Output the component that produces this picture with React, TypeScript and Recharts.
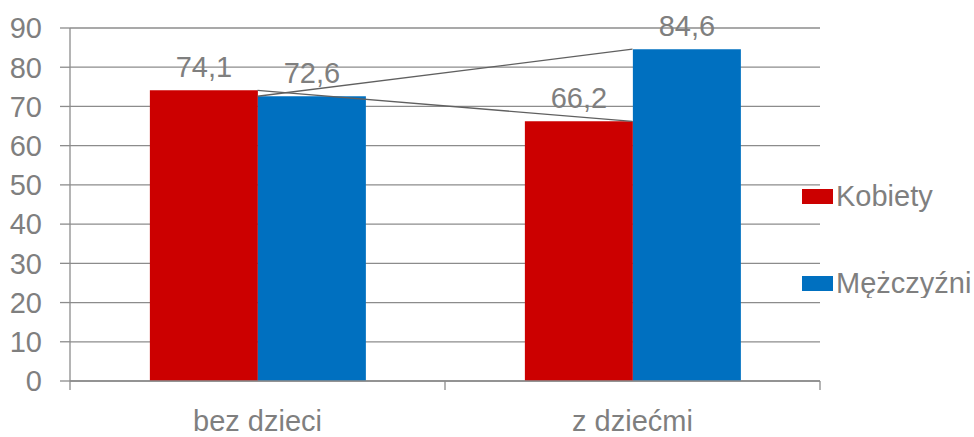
import {
  ComposedChart,
  Bar,
  Line,
  XAxis,
  YAxis,
  CartesianGrid,
  Legend,
  LabelList,
} from "recharts";

const categories = ["bez dzieci", "z dziećmi"];
const kobiety = [74.1, 66.2];
const mezczyzni = [72.6, 84.6];
const yTicks = [0, 10, 20, 30, 40, 50, 60, 70, 80, 90];

const seriesInfo = [
  { key: "Kobiety", label: "Kobiety", color: "#CC0000" },
  { key: "Mezczyzni", label: "Mężczyźni", color: "#0070C0" },
];

const data = categories.map((name, i) => ({
  name,
  Kobiety: kobiety[i],
  Mezczyzni: mezczyzni[i],
}));

const TEXT = "#7f7f7f";
const GRID = "#8c8c8c";
const FONT = 29;

const fmt = (v: number) => v.toFixed(1).replace(".", ",");

function CategoryTick(props: any) {
  const { x, y, payload, index } = props;
  const half = payload.offset || 0;
  return (
    <g>
      <line x1={x - half} x2={x - half} y1={y} y2={y + 9} stroke={GRID} strokeWidth={1.3} />
      {index === categories.length - 1 && (
        <line x1={x + half} x2={x + half} y1={y} y2={y + 9} stroke={GRID} strokeWidth={1.3} />
      )}
      <text x={x} y={y + 50} textAnchor="middle" fill={TEXT} fontSize={FONT}>
        {payload.value}
      </text>
    </g>
  );
}

function LegendBox() {
  return (
    <div>
      {seriesInfo.map((s, i) => (
        <div
          key={s.key}
          style={{
            display: "flex",
            alignItems: "center",
            height: 30,
            marginBottom: i === 0 ? 57 : 0,
            whiteSpace: "nowrap",
          }}
        >
          <div style={{ width: 31, height: 15, background: s.color, marginRight: 3, flexShrink: 0 }} />
          <span style={{ color: TEXT, fontSize: FONT, lineHeight: "30px" }}>{s.label}</span>
        </div>
      ))}
    </div>
  );
}

export default function App() {
  return (
    <div
      style={{
        position: "absolute",
        left: 0,
        top: 0,
        width: 974,
        height: 437,
        overflow: "hidden",
        background: "#fff",
        fontFamily: "'Liberation Sans', Arial, sans-serif",
      }}
    >
      <ComposedChart
        width={974}
        height={437}
        data={data}
        margin={{ top: 28, right: 154, left: 0, bottom: 0 }}
        barCategoryGap="21.3%"
        barGap={0}
      >
        <CartesianGrid vertical={false} stroke={GRID} strokeWidth={1.3} />
        <XAxis
          dataKey="name"
          height={56}
          axisLine={{ stroke: GRID, strokeWidth: 1.3 }}
          tickLine={false}
          tickSize={0}
          tickMargin={0}
          tick={<CategoryTick />}
          interval={0}
        />
        <YAxis
          width={70}
          domain={[0, 90]}
          ticks={yTicks}
          interval={0}
          axisLine={{ stroke: GRID, strokeWidth: 1.3 }}
          tickLine={{ stroke: GRID, strokeWidth: 1.3 }}
          tickSize={10}
          tickMargin={18}
          tick={{ fill: TEXT, fontSize: FONT }}
        />
        <Legend
          layout="vertical"
          align="center"
          verticalAlign="middle"
          content={<LegendBox />}
          wrapperStyle={{ left: 802, top: 181, width: 172, overflow: "hidden" }}
        />
        {seriesInfo.map((s) => (
          <Bar key={s.key} dataKey={s.key} name={s.label} fill={s.color} isAnimationActive={false}>
            <LabelList
              dataKey={s.key}
              position="top"
              offset={13}
              fill={TEXT}
              fontSize={FONT}
              formatter={(v: any) => fmt(Number(v))}
            />
          </Bar>
        ))}
        {seriesInfo.map((s) => (
          <Line
            key={"line-" + s.key}
            dataKey={s.key}
            stroke="#606060"
            strokeWidth={1.3}
            dot={false}
            activeDot={false}
            legendType="none"
            isAnimationActive={false}
          />
        ))}
      </ComposedChart>
    </div>
  );
}
